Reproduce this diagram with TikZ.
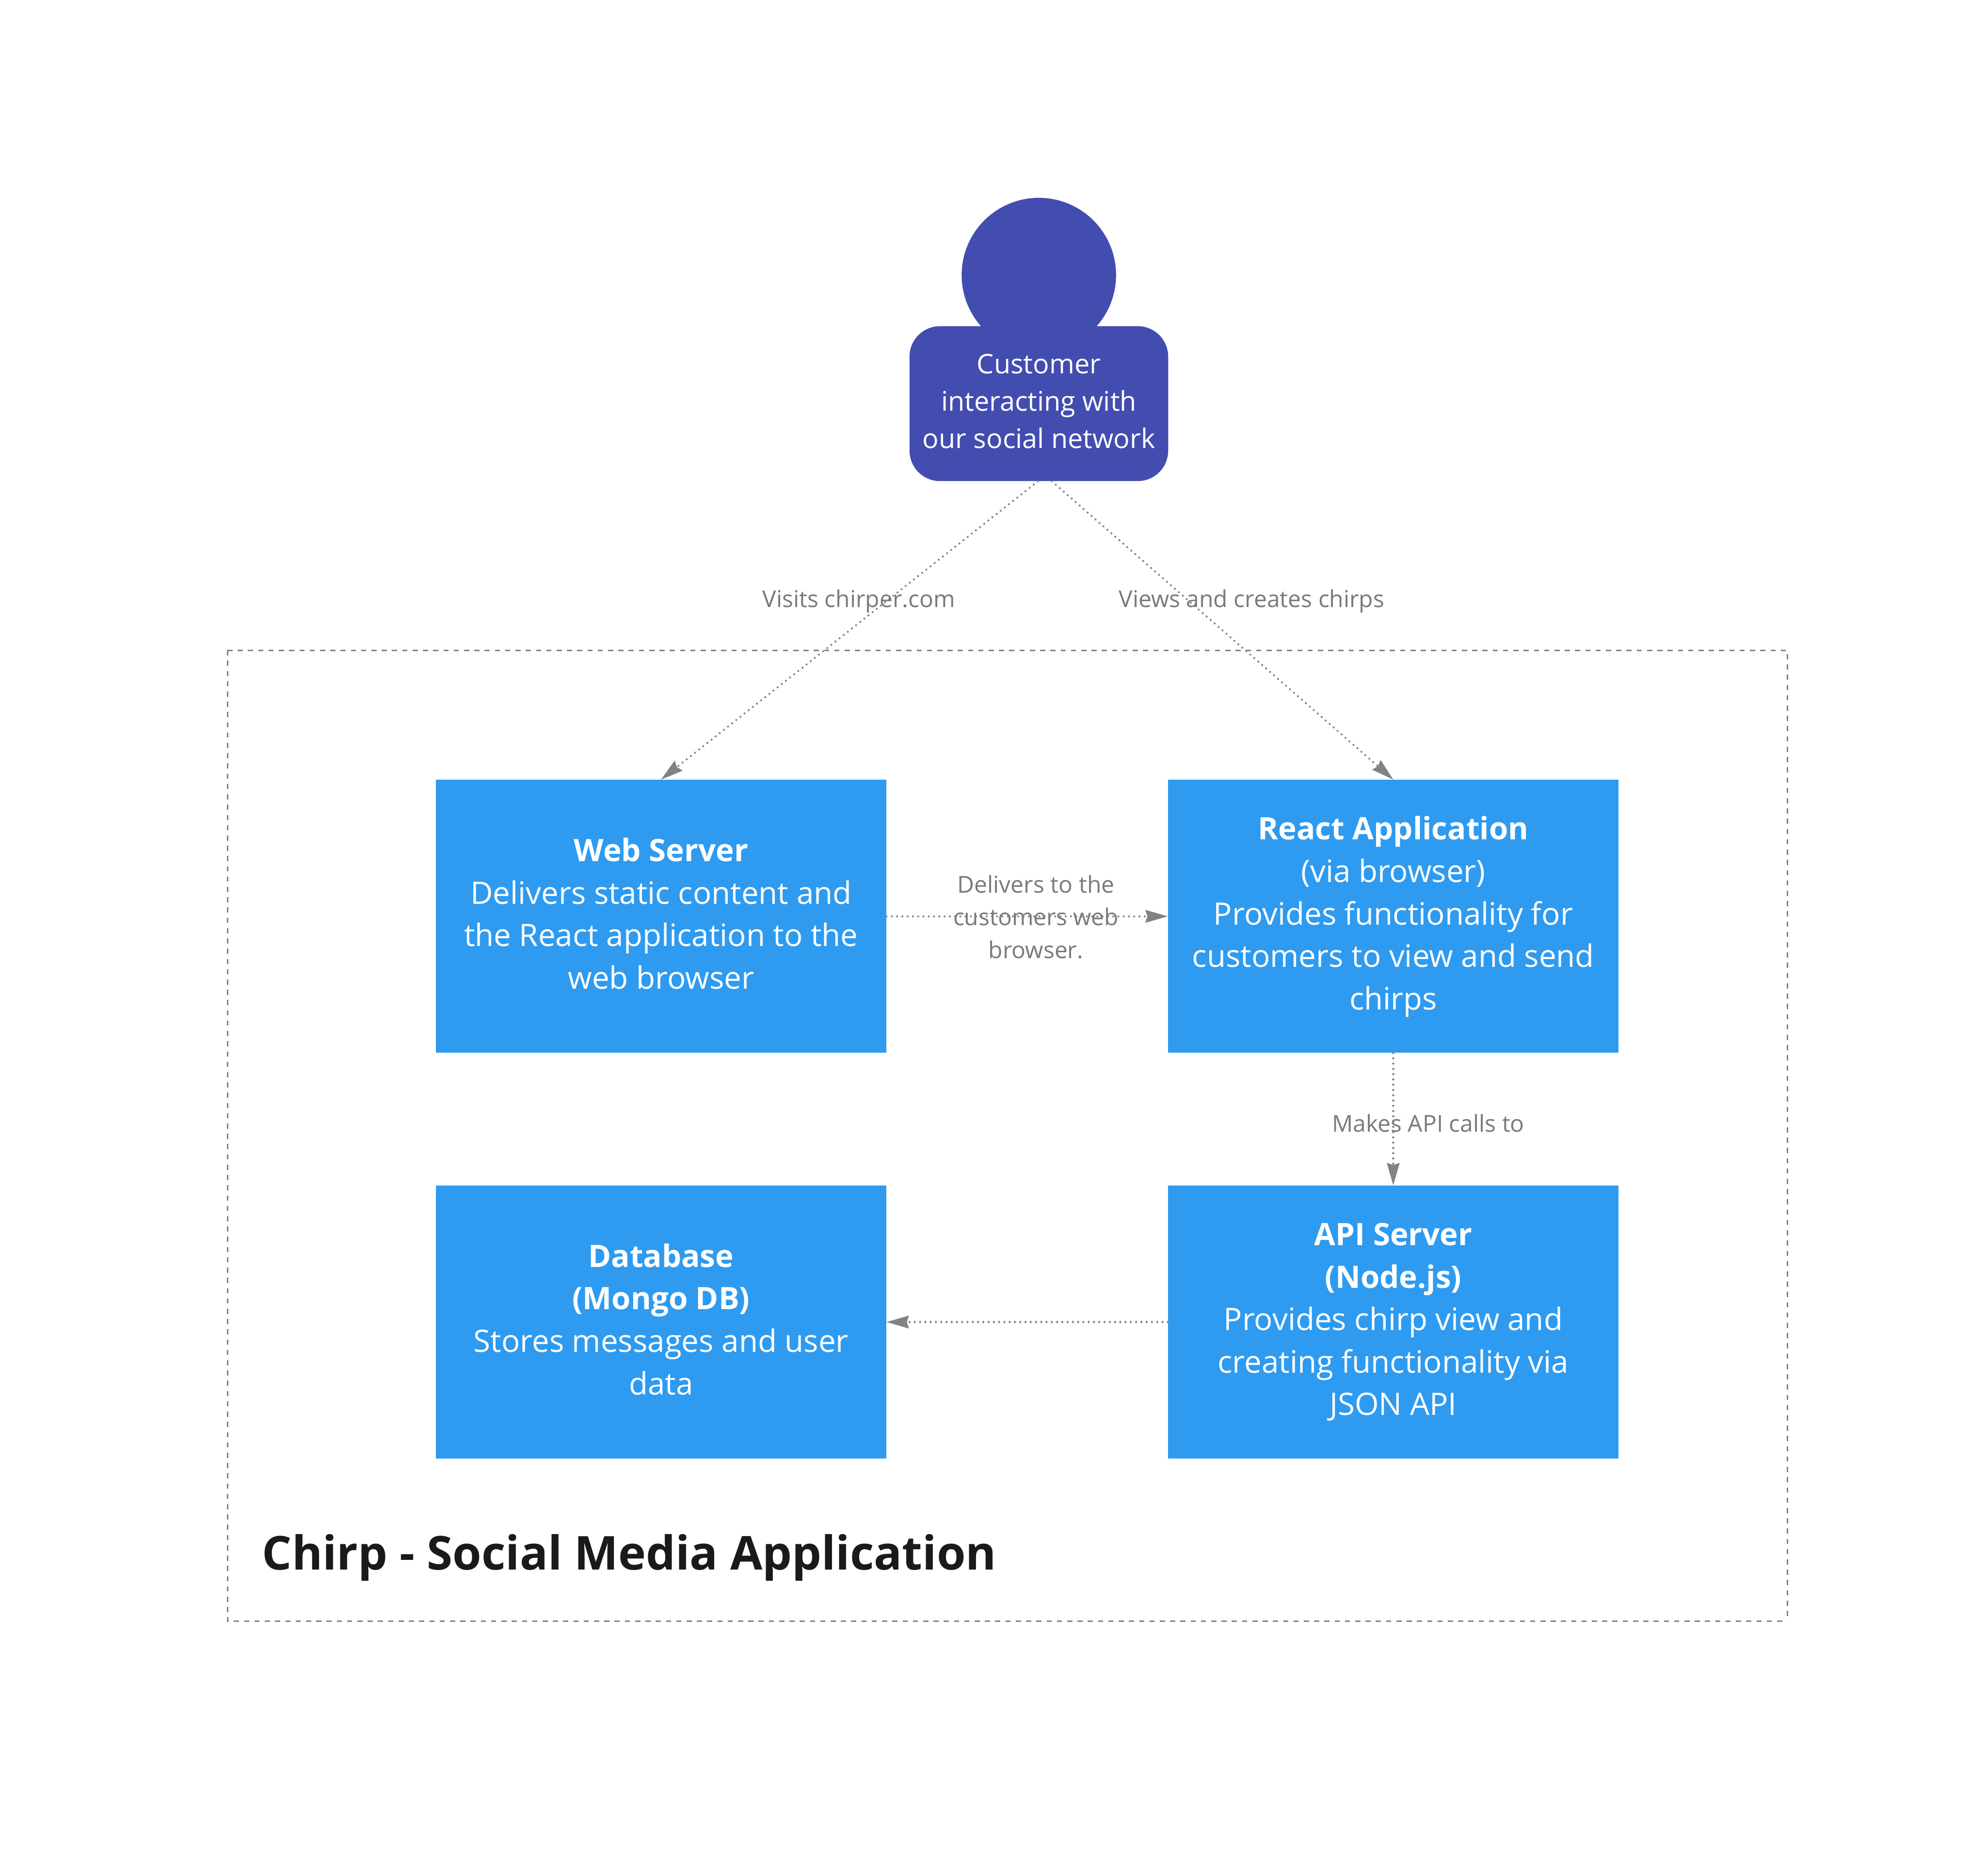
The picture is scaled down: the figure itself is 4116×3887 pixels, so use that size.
\documentclass[tikz,border=0pt]{standalone}
\usepackage{fontspec}
\setmainfont{Open Sans}
\usetikzlibrary{arrows.meta}
\definecolor{persblue}{HTML}{434DB0}
\definecolor{boxblue}{HTML}{2E9BF0}
\definecolor{linegray}{HTML}{828282}
\definecolor{labelgray}{HTML}{7A7A7A}
\definecolor{titleink}{HTML}{1A1A1A}
\tikzset{
  sysbox/.style={fill=boxblue,text=white,minimum width=467pt,minimum height=283pt,inner sep=0pt,align=center,font=\fontsize{32}{44}\selectfont},
  rel/.style={draw=linegray,line width=2.1pt,line cap=round,dash pattern=on 0.01pt off 5.45pt,-{Stealth[length=23pt,width=13pt,inset=2pt,line cap=butt]}},
  rellabel/.style={text=labelgray,align=center,inner sep=0pt,font=\fontsize{24.1}{34}\selectfont},
  framedash/.style={draw=linegray,line width=1.5pt,dash pattern=on 5.33pt off 5.33pt},
}
\newcommand{\lowend}[1]{\rule[-#1]{0pt}{0pt}}
\begin{document}
\begin{tikzpicture}[x=0.5pt,y=-0.5pt]
\useasboundingbox (0,0) rectangle (4116,3887);
\fill[white] (0,0) rectangle (4116,3887);
\coordinate (ftl) at (471.3,1347.6);
\coordinate (ftr) at (3704,1347.6);
\coordinate (fbl) at (471.3,3359.5);
\coordinate (fbr) at (3704,3359.5);
\draw[framedash] (ftl) -- (ftr) -- (fbr);
\draw[framedash] (ftl) -- (fbl) -- (fbr);
\fill[persblue] (2153,570) circle[radius=80pt];
\node[fill=persblue,rounded corners=31.5pt,minimum width=268pt,minimum height=160.5pt,inner sep=0pt] (customer) at (2153,836.5) {};
\node[text=white,align=center,inner sep=0pt,font=\fontsize{28}{38.7}\selectfont] (custtext) at (2153,831.8) {Customer\\interacting with\\our social network};
\node[sysbox] (web) at (1370,1899) {\textbf{Web Server}\\Delivers static content and\\the React application to the\\web browser\lowend{6pt}};
\node[sysbox] (react) at (2887.5,1899) {\rule{0pt}{25pt}\textbf{React Application}\\(via browser)\\Provides functionality for\\customers to view and send\\chirps};
\node[sysbox] (db) at (1370,2739.8) {\textbf{Database}\\\textbf{(Mongo DB)}\\Stores messages and user\\data\lowend{6pt}};
\node[sysbox] (api) at (2887.5,2739.8) {\textbf{API Server}\\\textbf{(Node.js)}\\Provides chirp view and\\creating functionality via\\JSON API};
\coordinate (visitstart) at ([xshift=-1pt]customer.south);
\coordinate (viewstart) at ([xshift=13.5pt]customer.south);
\draw[rel] (visitstart) -- (web.north);
\draw[rel] (viewstart) -- (react.north);
\draw[rel] (web.east) -- (react.west);
\draw[rel] (react.south) -- (api.north);
\draw[rel] (api.west) -- (db.east);
\node[rellabel] (l1) at (1780,1246) {Visits chirper.com};
\node[rellabel] (l2) at (2594,1246) {Views and creates chirps};
\node[rellabel] (l3) at (2147,1900) {Delivers to the\\customers web\\browser.};
\node[rellabel] (l4) at (2960,2328) {Makes API calls to};
\node[anchor=west,inner sep=0pt,text=titleink,font=\fontsize{48.4}{60}\selectfont\bfseries] (title) at (543,3228) {Chirp - Social Media Application};
\end{tikzpicture}
\end{document}
